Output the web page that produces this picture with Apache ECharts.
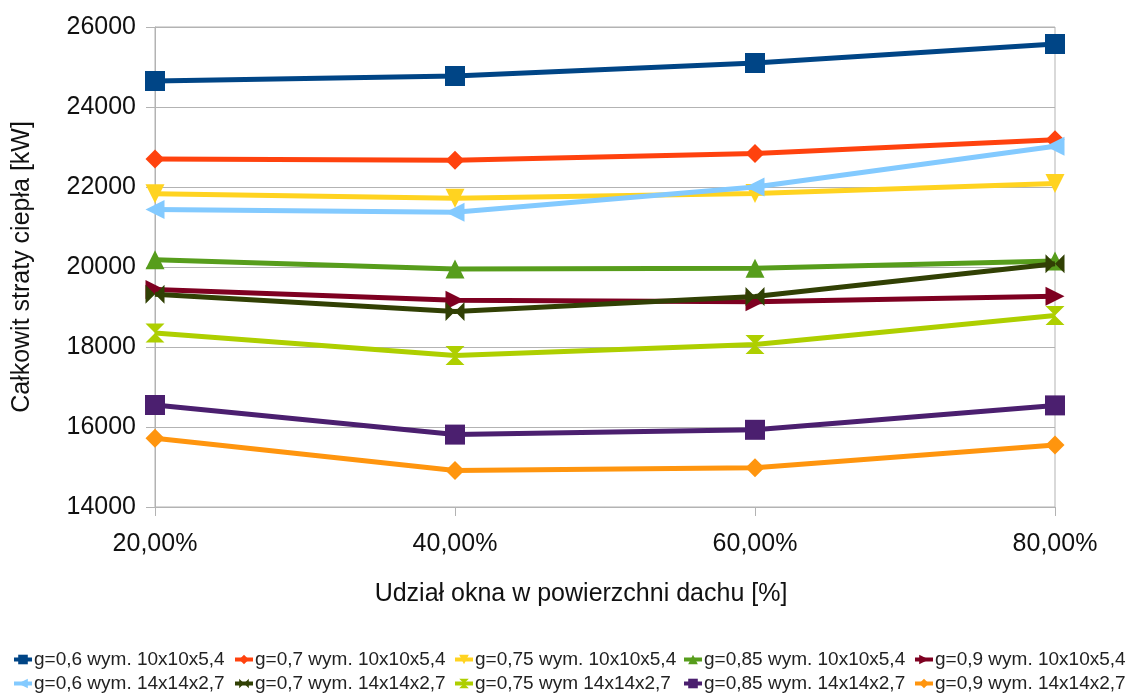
<!DOCTYPE html>
<html>
<head>
<meta charset="utf-8">
<script src="https://cdn.jsdelivr.net/npm/echarts@6/dist/echarts.min.js"></script>
<style>
  html, body { margin: 0; padding: 0; background: #fff; }
  #chart { width: 1130px; height: 693px; }
</style>
</head>
<body>
<div id="chart"></div>
<script>
// Window share in the roof area (x axis categories)
const categories = ['20,00%', '40,00%', '60,00%', '80,00%'];

// Total heat loss [kW] for each glazing g-value and building size
const g06_10x10 = [24650, 24775, 25100, 25575];
const g07_10x10 = [22700, 22670, 22840, 23180];
const g075_10x10 = [21830, 21720, 21840, 22090];
const g085_10x10 = [20180, 19950, 19970, 20150];
const g09_10x10 = [19440, 19170, 19130, 19270];
const g06_14x14 = [21440, 21370, 22000, 23020];
const g07_14x14 = [19320, 18890, 19260, 20080];
const g075_14x14 = [18350, 17790, 18060, 18790];
const g085_14x14 = [16550, 15810, 15930, 16540];
const g09_14x14 = [15720, 14910, 14980, 15550];

const seriesNames = [
  'g=0,6 wym. 10x10x5,4', 'g=0,7 wym. 10x10x5,4', 'g=0,75 wym. 10x10x5,4',
  'g=0,85 wym. 10x10x5,4', 'g=0,9 wym. 10x10x5,4',
  'g=0,6 wym. 14x14x2,7', 'g=0,7 wym. 14x14x2,7', 'g=0,75 wym 14x14x2,7',
  'g=0,85 wym. 14x14x2,7', 'g=0,9 wym. 14x14x2,7'
];
const seriesValues = [
  g06_10x10, g07_10x10, g075_10x10, g085_10x10, g09_10x10,
  g06_14x14, g07_14x14, g075_14x14, g085_14x14, g09_14x14
];

const colors = ['#004586', '#ff420e', '#ffd320', '#579d1c', '#7e0021',
                '#83caff', '#314004', '#aecf00', '#4b1f6f', '#ff950e'];

const BOWTIE = 'path://M0,0 L0,20 L10,10 Z M20,0 L20,20 L10,10 Z';
const HOURGLASS = 'path://M0,0 L20,0 L10,10 Z M0,20 L20,20 L10,10 Z';
const markers = [
  { symbol: 'rect', size: 20, rotate: 0 },
  { symbol: 'diamond', size: 19, rotate: 0 },
  { symbol: 'triangle', size: 19, rotate: 180 },
  { symbol: 'triangle', size: 19, rotate: 0 },
  { symbol: 'triangle', size: 19, rotate: -90 },
  { symbol: 'triangle', size: 19, rotate: 90 },
  { symbol: BOWTIE, size: 19, rotate: 0 },
  { symbol: HOURGLASS, size: 19, rotate: 0 },
  { symbol: 'rect', size: 20, rotate: 0 },
  { symbol: 'diamond', size: 19, rotate: 0 }
];

const FONT = '"Liberation Sans", Arial, sans-serif';
const gridColor = '#b3b3b3';
const textColor = '#111';

// legend laid out as a 5-column grid
const legendLeft = [12, 233, 453, 682, 913];
const legendTop = [650, 674];
const legends = seriesNames.map((name, i) => ({
  data: [name],
  left: legendLeft[i % 5],
  top: legendTop[Math.floor(i / 5)],
  padding: 0,
  itemWidth: 18,
  itemHeight: 12,
  selectedMode: false,
  lineStyle: { width: 4 },
  textStyle: { fontFamily: FONT, fontSize: 19, color: '#222', padding: [0, 0, 0, -3] }
}));

const chart = echarts.init(document.getElementById('chart'), null, { renderer: 'canvas' });
chart.setOption({
  animation: false,
  backgroundColor: '#fff',
  color: colors,
  legend: legends,
  grid: {
    left: 155, right: 75, top: 27, bottom: 186,
    show: true, borderColor: gridColor, borderWidth: 1
  },
  xAxis: {
    type: 'category',
    data: categories,
    boundaryGap: false,
    axisLine: { lineStyle: { color: gridColor, width: 1 } },
    axisTick: { show: true, length: 9, lineStyle: { color: gridColor } },
    axisLabel: { fontFamily: FONT, fontSize: 25, color: textColor, margin: 25 },
    splitLine: { show: false }
  },
  yAxis: {
    type: 'value',
    min: 14000, max: 26000, interval: 2000,
    axisLine: { show: true, lineStyle: { color: gridColor, width: 1 } },
    axisTick: { show: true, length: 9, lineStyle: { color: gridColor } },
    axisLabel: {
      fontFamily: FONT, fontSize: 25, color: textColor, margin: 19,
      formatter: v => String(v)
    },
    splitLine: { show: true, lineStyle: { color: gridColor, width: 1 } }
  },
  graphic: [
    {
      type: 'text',
      x: 22, y: 267,
      rotation: Math.PI / 2,
      style: {
        text: 'Całkowit straty ciepła [kW]',
        font: '25px ' + FONT,
        fill: textColor,
        align: 'center',
        verticalAlign: 'middle'
      }
    },
    {
      type: 'text',
      x: 581, y: 594,
      style: {
        text: 'Udział okna w powierzchni dachu [%]',
        font: '25px ' + FONT,
        fill: textColor,
        align: 'center',
        verticalAlign: 'middle'
      }
    }
  ],
  series: seriesValues.map((vals, i) => ({
    name: seriesNames[i],
    type: 'line',
    data: vals,
    symbol: markers[i].symbol,
    symbolSize: markers[i].size,
    symbolRotate: markers[i].rotate,
    showSymbol: true,
    lineStyle: { width: 5, color: colors[i] },
    itemStyle: { color: colors[i], opacity: 1 },
    emphasis: { disabled: true },
    z: 2 + i
  }))
});
</script>
</body>
</html>
